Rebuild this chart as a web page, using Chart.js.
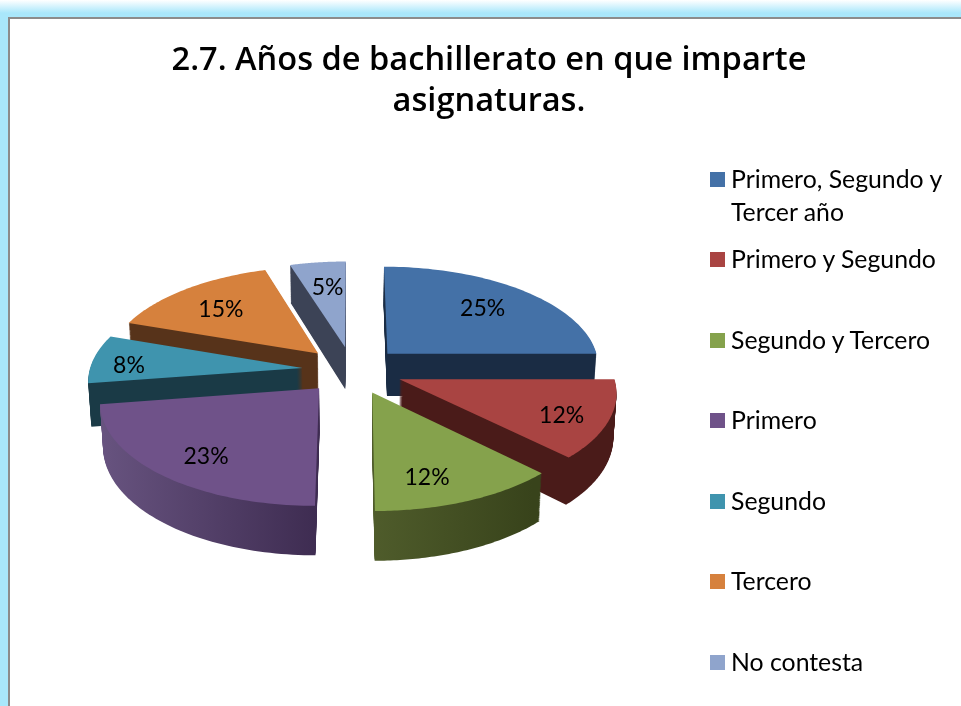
<!DOCTYPE html>
<html><head><meta charset="utf-8">
<style>
html,body{margin:0;padding:0;width:961px;height:706px;overflow:hidden;background:#fff}
#bg{position:absolute;left:0;top:0;width:961px;height:706px;background:linear-gradient(to bottom,#fff 0,#a9e7fb 13px,#a9e7fb 17px)}
#frame{position:absolute;left:8px;top:17px;width:953px;height:689px;background:#fff;border-left:2px solid #8c8c8c;border-top:2px solid #8c8c8c;box-sizing:border-box}
#wrap{position:absolute;left:0;top:0;width:961px;height:706px;overflow:hidden}
canvas{display:block}
#legend{position:absolute;left:0;top:0;font-family:Lato,sans-serif;font-size:24.8px;color:#000}
.it{position:absolute;left:731px;line-height:33px;white-space:nowrap}
.sw{position:absolute;width:15px;height:15px;left:710px}
</style></head><body>
<div id="bg"></div><div id="frame"></div>
<div id="wrap"><canvas id="c" width="978" height="706"></canvas></div>
<div id="legend"></div>
<script src="https://cdn.jsdelivr.net/npm/chart.js@4"></script>
<script>
const categories=[["Primero, Segundo y","Tercer año"],["Primero y Segundo"],["Segundo y Tercero"],["Primero"],["Segundo"],["Tercero"],["No contesta"]];
const values=[25,12.49,12.49,22.6,7.7,14.9,4.8];
const topColors=["#4471a7","#a94442","#85a24c","#6f5289","#3f94ae","#d6813d","#8fa4cc"];
const wallLeft=["#1a2c44","#4a1b19","#4f5c2b","#67537f","#1a3a46","#57331a","#3c4356"];
const wallRight=["#1a2c44","#4a1b19","#38431b","#3d2b50","#1a3a46","#57331a","#3c4356"];
const labelRadii=[.63,.8,.8,.83,.82,.65,.58];
const labelNudgeX=[8,-4,-20,16,-2,-9,-1];
const labelNudgeY=[-4,4,0,-2,5,-1,-8];
const drawOrder=[0,6,5,4,3,1,2];
const legendRows=[179,259,340,420,501,581,662];

const SHIFT_X=-136.5,EXPLODE=.236,PERSP=.111,SQUASH=.47,DEPTH=43;
function project(el,u,v){
  const R=el.outerRadius,s=1/(1-PERSP*v);
  return [el.x+SHIFT_X+R*u*s, el.y+R*SQUASH*v*s, s];
}
function tracePath(ctx,el,h){
  const mid=(el.startAngle+el.endAngle)/2,ou=EXPLODE*Math.cos(mid),ov=EXPLODE*Math.sin(mid);
  const pts=[[ou,ov]],n=60;
  for(let i=0;i<=n;i++){const a=el.startAngle+(el.endAngle-el.startAngle)*i/n;pts.push([ou+Math.cos(a),ov+Math.sin(a)]);}
  const cx=el.x+SHIFT_X;
  ctx.beginPath();
  pts.forEach((p,i)=>{
    const q=project(el,p[0],p[1]);
    const x=cx+(q[0]-cx)*(1-.012*h/DEPTH), y=q[1]+h*q[2];
    i?ctx.lineTo(x,y):ctx.moveTo(x,y);
  });
  ctx.closePath();
}
const pie3d={
  id:'pie3d',
  beforeDatasetDraw(chart,args){
    const ctx=chart.ctx,els=args.meta.data;
    drawOrder.forEach(i=>{
      const el=els[i],cx=el.x+SHIFT_X;
      const xs=(i===2)?[cx+20,cx+180]:(i===3?[cx-250,cx-30]:[cx-300,cx+300]);
      const gr=ctx.createLinearGradient(xs[0],0,xs[1],0);
      gr.addColorStop(0,wallLeft[i]);gr.addColorStop(1,wallRight[i]);
      ctx.fillStyle=gr;
      for(let h=DEPTH;h>0;h-=1){tracePath(ctx,el,h);ctx.fill();}
      tracePath(ctx,el,0);ctx.fillStyle=topColors[i];ctx.fill();
    });
    return false;
  },
  afterDatasetsDraw(chart){
    const ctx=chart.ctx,els=chart.getDatasetMeta(0).data;
    ctx.save();ctx.font='23px Lato';ctx.fillStyle='#000';ctx.textAlign='center';ctx.textBaseline='middle';
    els.forEach((el,i)=>{
      const mid=(el.startAngle+el.endAngle)/2,r=labelRadii[i];
      const q=project(el,(EXPLODE+r)*Math.cos(mid),(EXPLODE+r)*Math.sin(mid));
      ctx.fillText(Math.round(values[i])+'%',q[0]+labelNudgeX[i],q[1]+labelNudgeY[i]);
    });
    ctx.restore();
  }
};
new Chart(document.getElementById('c'),{
  type:'pie',
  data:{labels:categories.map(c=>c.join(' ')),datasets:[{data:values,backgroundColor:topColors,borderWidth:0}]},
  options:{
    responsive:false,animation:false,
    layout:{padding:{left:0,right:0,top:0,bottom:123}},
    plugins:{
      legend:{display:false},tooltip:{enabled:false},
      title:{display:true,text:["2.7. Años de bachillerato en que imparte","asignaturas."],color:'#000',
        font:{family:"'Open Sans'",size:32.6,weight:'600',lineHeight:1.26},padding:{top:40,bottom:35}}
    }
  },
  plugins:[pie3d]
});
const lg=document.getElementById('legend');
categories.forEach((c,i)=>{
  const s=document.createElement('div');s.className='sw';s.style.background=topColors[i];s.style.top=(legendRows[i]-7)+'px';lg.appendChild(s);
  const t=document.createElement('div');t.className='it';t.style.top=(legendRows[i]-17)+'px';t.innerHTML=c.join('<br>');lg.appendChild(t);
});
</script>
</body></html>
